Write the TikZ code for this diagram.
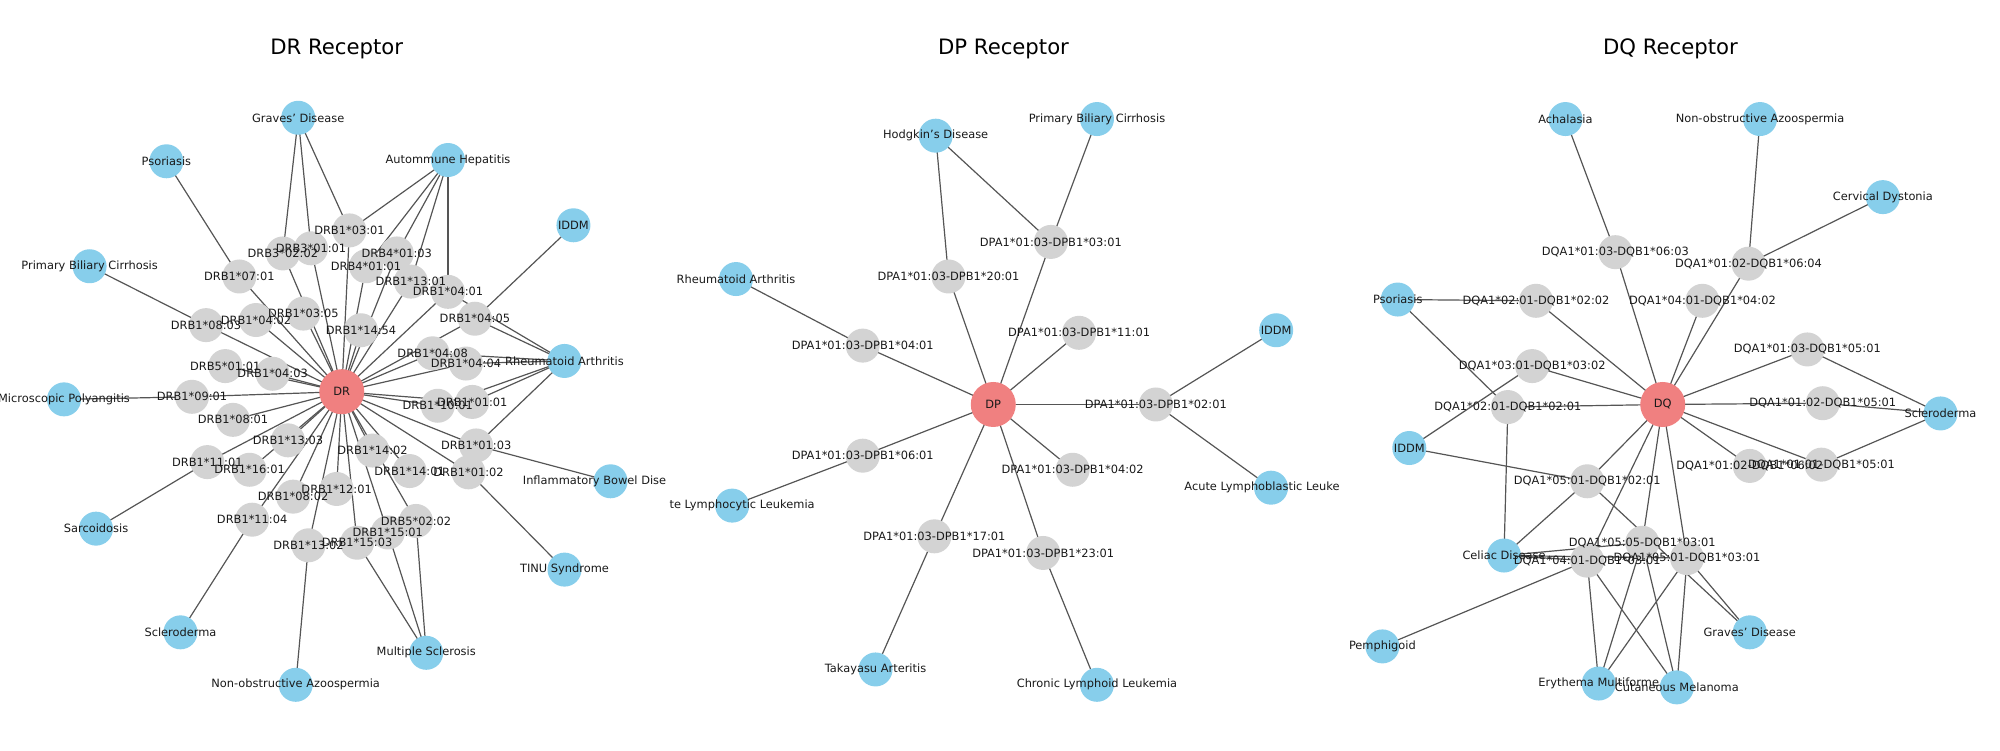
\documentclass[tikz,border=0pt]{standalone}
\usepackage{fontspec}
\setmainfont{DejaVu Sans}
\usetikzlibrary{backgrounds}
\definecolor{dblue}{HTML}{87CEEB}
\definecolor{dred}{HTML}{F08080}
\definecolor{dgray}{HTML}{D3D3D3}
\definecolor{dedge}{HTML}{555555}
\tikzset{
  dis/.style={circle,fill=dblue,minimum size=17pt,inner sep=0},
  gn/.style={circle,fill=dgray,minimum size=17pt,inner sep=0},
  hub/.style={circle,fill=dred,minimum size=22.5pt,inner sep=0},
  lbl/.style={inner sep=0,font=\fontsize{5.7}{6}\selectfont,text=black!90},
  ttl/.style={inner sep=0,font=\fontsize{10.6}{12}\selectfont},
  edge/.style={draw=dedge,line width=0.6pt}
}
\def\DRgray{ra0301/273/180/DRB1*03:01, rb30101/243/194/DRB3*01:01, rb30202/221/198/DRB3*02:02, rb40103/310/198/DRB4*01:03, rb40101/286/208/DRB4*01:01, ra1301/321/220/DRB1*13:01, ra0401/350/228/DRB1*04:01, ra0701/187/216/DRB1*07:01, ra0305/237/245/DRB1*03:05, ra0402/200/250/DRB1*04:02, ra0803/161/254/DRB1*08:03, ra1454/282/258/DRB1*14:54, ra0405/371/249/DRB1*04:05, ra0408/338/276/DRB1*04:08, ra0404/364/284/DRB1*04:04, rb50101/176/286/DRB5*01:01, ra0403/213/292/DRB1*04:03, ra0901/150/310/DRB1*09:01, ra0801/182/328/DRB1*08:01, ra1001/342/317/DRB1*10:01, ra0101/369/314/DRB1*01:01, ra1303/225/344/DRB1*13:03, ra1101/162/361/DRB1*11:01, ra1601/195/367/DRB1*16:01, ra1402/291/352/DRB1*14:02, ra0103/372/348/DRB1*01:03, ra1401/320/368/DRB1*14:01, ra0102/366/369/DRB1*01:02, ra1201/263/382/DRB1*12:01, ra0802/229/388/DRB1*08:02, ra1104/197/406/DRB1*11:04, rb50202/325/407/DRB5*02:02, ra1501/303/416/DRB1*15:01, ra1503/279/424/DRB1*15:03, ra1302/241/426/DRB1*13:02}
\def\DRdis{rgrav/233/92/Graves' Disease, rpsor/130/126/Psoriasis, raih/350/125/Autommune Hepatitis, rpbc/70/208/Primary Biliary Cirrhosis, rmpa/50/312/Microscopic Polyangitis, rsarc/75/413/Sarcoidosis, riddm/448/176/IDDM, rra/441/282/Rheumatoid Arthritis, ribd/477/376/{}, rtinu/441/445/TINU Syndrome, rscl/141/494/Scleroderma, rnoa/231/535/Non-obstructive Azoospermia, rms/333/510/Multiple Sclerosis}
\def\DRedges{rgrav/rb30202, rgrav/rb30101, rgrav/ra0301, raih/ra0301, raih/rb40103, raih/rb40101, raih/ra1301, raih/ra0401, rpsor/ra0701, rpbc/ra0803, rmpa/ra0901, rsarc/ra1101, rscl/ra1104, rnoa/ra1302, rms/ra1503, rms/ra1501, rms/rb50202, rtinu/ra0102, ribd/ra0103, riddm/ra0405, rra/ra0401, rra/ra0405, rra/ra0408, rra/ra0404, rra/ra0101, rra/ra1001, rra/ra0103}
\def\DPgray{p0301/821/189/DPA1*01:03-DPB1*03:01, p2001/741/216/DPA1*01:03-DPB1*20:01, p0401/674/270/DPA1*01:03-DPB1*04:01, p1101/843/260/DPA1*01:03-DPB1*11:01, p0201/903/316/DPA1*01:03-DPB1*02:01, p0402/838/367/DPA1*01:03-DPB1*04:02, p0601/674/356/DPA1*01:03-DPB1*06:01, p1701/730/419/DPA1*01:03-DPB1*17:01, p2301/815/432/DPA1*01:03-DPB1*23:01}
\def\DPdis{phod/731/106/Hodgkin's Disease, ppbc/857/93/Primary Biliary Cirrhosis, pra/575/218/Rheumatoid Arthritis, piddm/997/258/IDDM, pall/993/381/{}, pcll/572/395/{}, ptak/684/523/Takayasu Arteritis, pclymph/857/535/Chronic Lymphoid Leukemia}
\def\DPedges{phod/p0301, phod/p2001, ppbc/p0301, pra/p0401, piddm/p0201, pall/p0201, pcll/p0601, ptak/p1701, pclymph/p2301}
\def\DQgray{q0603/1262/197/DQA1*01:03-DQB1*06:03, q0604/1366/206/DQA1*01:02-DQB1*06:04, q0202/1200/235/DQA1*02:01-DQB1*02:02, q0402/1330/235/DQA1*04:01-DQB1*04:02, q0302/1197/286/DQA1*03:01-DQB1*03:02, q0201/1178/318/DQA1*02:01-DQB1*02:01, q0501a/1412/273/DQA1*01:03-DQB1*05:01, q0501b/1424/315/DQA1*01:02-DQB1*05:01, q0602/1367/364/DQA1*01:02-DQB1*06:02, q0501c/1423/363/DQA1*01:01-DQB1*05:01, q5201/1240/376/DQA1*05:01-DQB1*02:01, q5503/1283/424/DQA1*05:05-DQB1*03:01, q5103/1318/436/DQA1*05:01-DQB1*03:01, q4103/1240/438/DQA1*04:01-DQB1*03:01}
\def\DQdis{qach/1223/93/Achalasia, qnoa/1375/93/Non-obstructive Azoospermia, qcd/1471/154/Cervical Dystonia, qpsor/1092/234/Psoriasis, qiddm/1101/350/IDDM, qscl/1516/323/Scleroderma, qcel/1175/434/Celiac Disease, qpem/1080/505/Pemphigoid, qgrav/1367/494/Graves' Disease, qery/1249/534/Erythema Multiforme, qmel/1310/537/Cutaneous Melanoma}
\def\DQedges{qach/q0603, qnoa/q0604, qcd/q0604, qpsor/q0202, qpsor/q0201, qiddm/q0302, qiddm/q5201, qcel/q0201, qcel/q5201, qcel/q4103, qcel/q5503, qcel/q5103, qpem/q4103, qery/q4103, qery/q5503, qery/q5103, qmel/q4103, qmel/q5503, qmel/q5103, qgrav/q5201, qgrav/q5103, qscl/q0501a, qscl/q0501b, qscl/q0501c}
\begin{document}
\begin{tikzpicture}[x=0.64pt,y=-0.64pt]
\useasboundingbox (0,0) rectangle (1562.5,586);
\node[ttl] (t1) at (263,38) {DR Receptor};
\node[ttl] (t2) at (784,38) {DP Receptor};
\node[ttl] (t3) at (1305,38) {DQ Receptor};
\node[hub] (rDR) at (267,306) {};
\node[hub] (pDP) at (776,316) {};
\node[hub] (qDQ) at (1299,316) {};
\foreach \n/\x/\y/\t in \DRgray {\node[gn] (\n) at (\x,\y) {};}
\foreach \n/\x/\y/\t in \DPgray {\node[gn] (\n) at (\x,\y) {};}
\foreach \n/\x/\y/\t in \DQgray {\node[gn] (\n) at (\x,\y) {};}
\foreach \n/\x/\y/\t in \DRdis {\node[dis] (\n) at (\x,\y) {};}
\foreach \n/\x/\y/\t in \DPdis {\node[dis] (\n) at (\x,\y) {};}
\foreach \n/\x/\y/\t in \DQdis {\node[dis] (\n) at (\x,\y) {};}
\begin{scope}[on background layer]
\foreach \n/\x/\y/\t in \DRgray {\draw[edge] (rDR.center) -- (\n.center);}
\foreach \n/\x/\y/\t in \DPgray {\draw[edge] (pDP.center) -- (\n.center);}
\foreach \n/\x/\y/\t in \DQgray {\draw[edge] (qDQ.center) -- (\n.center);}
\foreach \a/\b in \DRedges {\draw[edge] (\a.center) -- (\b.center);}
\foreach \a/\b in \DPedges {\draw[edge] (\a.center) -- (\b.center);}
\foreach \a/\b in \DQedges {\draw[edge] (\a.center) -- (\b.center);}
\end{scope}
\foreach \n/\x/\y/\t in \DRgray {\node[lbl] at (\n) {\t};}
\foreach \n/\x/\y/\t in \DPgray {\node[lbl] at (\n) {\t};}
\foreach \n/\x/\y/\t in \DQgray {\node[lbl] at (\n) {\t};}
\foreach \n/\x/\y/\t in \DRdis {\node[lbl] at (\n) {\t};}
\foreach \n/\x/\y/\t in \DPdis {\node[lbl] at (\n) {\t};}
\foreach \n/\x/\y/\t in \DQdis {\node[lbl] at (\n) {\t};}
\node[lbl] at (rDR) {DR};
\node[lbl] at (pDP) {DP};
\node[lbl] at (qDQ) {DQ};
\node[lbl,anchor=east] at ([xshift=28pt]ribd.center) {Inflammatory Bowel Dise};
\node[lbl,anchor=west] at ([xshift=-31.5pt]pcll.center) {te Lymphocytic Leukemia};
\node[lbl,anchor=east] at ([xshift=34.5pt]pall.center) {Acute Lymphoblastic Leuke};
\end{tikzpicture}
\end{document}
